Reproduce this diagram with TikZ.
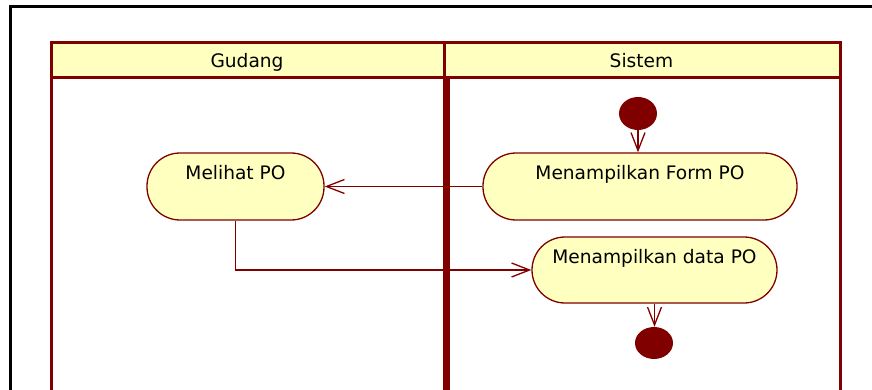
\documentclass[tikz,border=0pt]{standalone}
\usepackage{fontspec}
\setmainfont{DejaVu Sans}
\usetikzlibrary{arrows.meta,shapes.geometric}
\definecolor{umlred}{HTML}{800000}
\definecolor{umlfill}{HTML}{FFFFC0}
\begin{document}
\begin{tikzpicture}[x=1pt,y=-1pt,
  action/.style={rectangle, rounded corners=33pt, draw=umlred, fill=umlfill, line width=1.3pt,
    inner sep=0pt, text height=10pt, text depth=23pt, font=\fontsize{18.6}{20}\selectfont},
  flow/.style={draw=umlred, line width=1.3pt, -{Straight Barb[length=18pt,width=14pt,line width=1.3pt]}},
  dot/.style={ellipse, fill=umlred, draw=none, inner sep=0pt},
  lane/.style={draw=umlred, line width=3pt},
  lanetitle/.style={anchor=base, font=\fontsize{18.6}{20}\selectfont}]
\useasboundingbox (0,0) rectangle (872,390);
% outer frame
\draw[black, line width=3pt] (10,7) rectangle (900,420);
% swimlanes
\fill[umlfill] (51,43) rectangle (840,78);
\draw[lane] (51,400) -- (51,43) -- (840,43) -- (840,400);
\draw[lane] (51,78) -- (840,78);
\draw[lane] (444.5,43) -- (444.5,78);
\draw[draw=umlred, line width=6.5pt] (446.5,78) -- (446.5,400);
\node[lanetitle] (h1) at (247,68) {Gudang};
\node[lanetitle] (h2) at (641.5,68) {Sistem};
% nodes
\node[dot, minimum width=38pt, minimum height=33pt] (start) at (638,113.5) {};
\node[action, minimum width=314pt, minimum height=67pt] (form) at (640,186.5) {Menampilkan Form PO};
\node[action, minimum width=177pt, minimum height=67pt] (lihat) at (235.5,186.5) {Melihat PO};
\node[action, minimum width=245pt, minimum height=66pt] (data) at (654.5,270) {Menampilkan data PO};
\node[dot, minimum width=38pt, minimum height=32pt] (end) at (654,343) {};
% flows
\draw[flow] (start.south) -- (start.south |- form.north);
\draw[flow] (form.west) -- (lihat.east);
\draw[flow] (lihat.south) |- (data.west);
\draw[flow] (data.south) -- (data.south |- end.north);
\end{tikzpicture}
\end{document}
